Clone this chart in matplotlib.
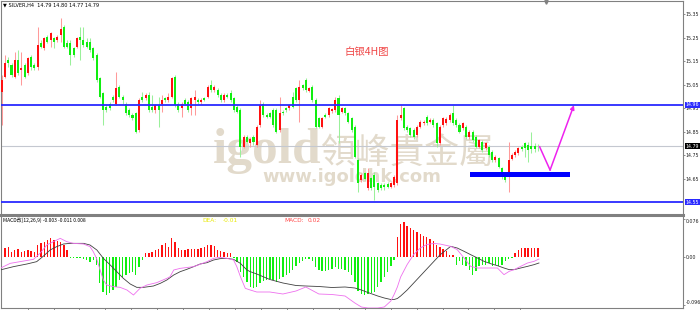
import numpy as np
import matplotlib
matplotlib.use("Agg")
import matplotlib.pyplot as plt
from matplotlib.patches import Rectangle
from matplotlib.transforms import blended_transform_factory

plt.rcParams['font.family'] = ['DejaVu Sans']

# ---------------- data (SILVER, H4) ----------------
open_ = [15.021, 15.085, 15.156, 15.134, 15.085, 15.156, 15.113, 15.134, 15.099, 15.170,
         15.134, 15.127, 15.227, 15.205, 15.255, 15.241, 15.248, 15.241, 15.262, 15.298,
         15.227, 15.227, 15.205, 15.212, 15.255, 15.241, 15.234, 15.234, 15.205, 15.177,
         15.078, 15.014, 14.957, 14.971, 15.000, 14.971, 15.042, 15.000, 14.971, 14.943,
         14.922, 14.929, 14.858, 15.000, 14.993, 15.007, 14.957, 14.943, 14.964, 14.971,
         14.993, 14.986, 15.000, 15.085, 14.971, 14.950, 14.986, 14.978, 14.950, 14.986,
         14.986, 14.978, 14.993, 15.000, 15.049, 15.028, 15.028, 15.007, 14.986, 15.007,
         15.014, 14.993, 14.957, 14.943, 14.787, 14.830, 14.801, 14.830, 14.794, 14.879,
         14.971, 14.922, 14.929, 14.943, 14.943, 14.858, 14.936, 14.950, 14.950, 15.000,
         15.035, 14.986, 15.049, 15.071, 15.025, 15.042, 14.986, 14.908, 14.872, 14.922,
         14.922, 14.939, 14.943, 14.993, 14.936, 14.950, 14.929, 14.908, 14.872, 14.730,
         14.645, 14.674, 14.610, 14.652, 14.667, 14.631, 14.624, 14.624, 14.628, 14.617,
         14.624, 14.631, 14.908, 14.950, 14.872, 14.865, 14.858, 14.837, 14.872, 14.886,
         14.915, 14.893, 14.901, 14.886, 14.801, 14.879, 14.886, 14.901, 14.929, 14.901,
         14.879, 14.865, 14.872, 14.830, 14.851, 14.830, 14.787, 14.808, 14.780, 14.787,
         14.766, 14.730, 14.738, 14.695, 14.674, 14.659, 14.737, 14.752, 14.759, 14.787,
         14.801, 14.794, 14.790, 14.790, 14.792]
high = [15.092, 15.177, 15.170, 15.142, 15.191, 15.198, 15.191, 15.142, 15.170, 15.177,
        15.142, 15.298, 15.241, 15.255, 15.262, 15.276, 15.255, 15.262, 15.333, 15.305,
        15.241, 15.241, 15.212, 15.255, 15.298, 15.298, 15.248, 15.248, 15.212, 15.184,
        15.085, 15.021, 14.964, 14.978, 15.007, 15.106, 15.049, 15.007, 14.978, 14.950,
        14.929, 14.936, 14.993, 15.021, 15.014, 15.021, 15.007, 14.971, 15.000, 15.007,
        15.000, 15.014, 15.085, 15.092, 14.978, 14.978, 14.993, 14.986, 15.000, 15.028,
        14.993, 14.993, 15.000, 15.049, 15.071, 15.049, 15.035, 15.014, 15.014, 15.014,
        15.028, 15.000, 14.964, 14.950, 14.837, 14.837, 14.830, 14.837, 14.879, 14.986,
        14.978, 14.929, 14.936, 14.950, 14.950, 15.000, 14.943, 14.957, 14.971, 15.021,
        15.042, 15.071, 15.056, 15.078, 15.042, 15.049, 14.993, 14.915, 14.915, 14.929,
        14.957, 14.953, 15.000, 15.007, 14.957, 14.957, 14.936, 14.915, 14.879, 14.738,
        14.674, 14.681, 14.695, 14.659, 14.681, 14.638, 14.631, 14.631, 14.638, 14.638,
        14.667, 14.922, 14.964, 14.957, 14.879, 14.872, 14.865, 14.879, 14.901, 14.901,
        14.922, 14.908, 14.908, 14.893, 14.879, 14.915, 14.912, 14.929, 14.964, 14.908,
        14.886, 14.893, 14.879, 14.858, 14.858, 14.837, 14.822, 14.815, 14.808, 14.794,
        14.773, 14.752, 14.745, 14.702, 14.681, 14.808, 14.759, 14.773, 14.787, 14.794,
        14.808, 14.808, 14.851, 14.801, 14.800]
low = [14.879, 15.078, 15.127, 15.085, 15.078, 15.092, 15.049, 15.078, 15.092, 15.113,
       15.113, 15.113, 15.205, 15.198, 15.227, 15.212, 15.205, 15.234, 15.234, 15.205,
       15.205, 15.134, 15.170, 15.205, 15.156, 15.212, 15.205, 15.191, 15.156, 15.063,
       14.993, 14.879, 14.936, 14.943, 14.978, 14.964, 14.993, 14.971, 14.922, 14.915,
       14.901, 14.844, 14.851, 14.978, 14.986, 14.936, 14.936, 14.929, 14.872, 14.936,
       14.978, 14.978, 14.993, 14.957, 14.936, 14.915, 14.964, 14.936, 14.922, 14.922,
       14.971, 14.971, 14.983, 14.993, 15.021, 15.021, 15.000, 14.978, 14.978, 14.993,
       14.978, 14.936, 14.929, 14.745, 14.780, 14.801, 14.787, 14.794, 14.787, 14.872,
       14.915, 14.908, 14.908, 14.872, 14.844, 14.851, 14.922, 14.936, 14.943, 14.950,
       14.978, 14.893, 15.028, 15.021, 15.018, 14.978, 14.865, 14.865, 14.865, 14.908,
       14.915, 14.932, 14.936, 14.801, 14.929, 14.922, 14.886, 14.851, 14.738, 14.596,
       14.638, 14.645, 14.603, 14.603, 14.560, 14.596, 14.603, 14.603, 14.610, 14.610,
       14.617, 14.624, 14.901, 14.858, 14.851, 14.830, 14.822, 14.830, 14.865, 14.879,
       14.879, 14.886, 14.872, 14.787, 14.794, 14.872, 14.879, 14.893, 14.879, 14.872,
       14.844, 14.858, 14.822, 14.822, 14.808, 14.780, 14.780, 14.766, 14.773, 14.745,
       14.723, 14.723, 14.695, 14.652, 14.638, 14.596, 14.730, 14.745, 14.752, 14.769,
       14.745, 14.723, 14.759, 14.766, 14.770]
close = [15.071, 15.142, 15.142, 15.092, 15.156, 15.099, 15.120, 15.085, 15.163, 15.127,
         15.120, 15.219, 15.212, 15.248, 15.234, 15.269, 15.234, 15.255, 15.290, 15.212,
         15.212, 15.177, 15.177, 15.248, 15.241, 15.219, 15.212, 15.198, 15.163, 15.071,
         15.000, 14.943, 14.943, 14.950, 14.986, 15.035, 15.000, 14.986, 14.929, 14.922,
         14.908, 14.851, 14.986, 14.986, 15.007, 14.943, 14.943, 14.964, 14.943, 14.986,
         14.986, 15.000, 15.078, 14.964, 14.943, 14.971, 14.971, 14.943, 14.993, 15.000,
         14.978, 14.986, 14.988, 15.042, 15.028, 15.042, 15.007, 14.986, 15.007, 15.000,
         14.986, 14.943, 14.936, 14.787, 14.830, 14.808, 14.822, 14.808, 14.872, 14.964,
         14.922, 14.915, 14.915, 14.879, 14.851, 14.929, 14.929, 14.943, 14.964, 14.957,
         14.986, 15.042, 15.035, 15.028, 15.035, 14.986, 14.872, 14.872, 14.908, 14.915,
         14.950, 14.946, 14.986, 14.922, 14.950, 14.929, 14.893, 14.858, 14.745, 14.631,
         14.667, 14.652, 14.674, 14.610, 14.617, 14.603, 14.610, 14.617, 14.617, 14.631,
         14.659, 14.901, 14.922, 14.865, 14.858, 14.837, 14.830, 14.872, 14.893, 14.893,
         14.886, 14.901, 14.879, 14.801, 14.872, 14.908, 14.903, 14.922, 14.886, 14.879,
         14.851, 14.886, 14.830, 14.851, 14.815, 14.787, 14.815, 14.773, 14.801, 14.752,
         14.730, 14.745, 14.702, 14.659, 14.645, 14.730, 14.752, 14.766, 14.780, 14.776,
         14.780, 14.773, 14.776, 14.776, 14.790]

macd_hist = [0.0107, 0.0173, 0.0193, 0.0107, 0.014, 0.0153, 0.0107, 0.0127, 0.014, 0.0127,
             0.0107, 0.024, 0.0287, 0.0307, 0.034, 0.0373, 0.034, 0.0327, 0.0307, 0.024,
             0.014, -0.001, -0.001, -0.001, -0.002, -0.003, -0.006, -0.0093, -0.005, -0.016,
             -0.0527, -0.069, -0.076, -0.0727, -0.066, -0.0593, -0.046, -0.0393, -0.036, -0.0327,
             -0.0293, -0.036, -0.0193, -0.006, 0.0087, 0.0087, 0.0107, 0.014, 0.0153, 0.024,
             0.0273, 0.0207, 0.0373, 0.0307, 0.0173, 0.014, 0.014, 0.0153, 0.0153, 0.0153,
             0.0153, 0.0173, 0.0207, 0.024, 0.024, 0.022, 0.014, 0.0127, 0.0107, 0.0087,
             0.0073, -0.002, -0.0093, -0.0293, -0.0393, -0.0493, -0.0593, -0.062, -0.060, -0.052,
             -0.048, -0.046, -0.044, -0.046, -0.050, -0.044, -0.040, -0.036, -0.032, -0.026,
             -0.018, -0.012, -0.008, -0.004, -0.004, -0.008, -0.020, -0.026, -0.028, -0.028,
             -0.026, -0.024, -0.020, -0.024, -0.024, -0.026, -0.030, -0.036, -0.050, -0.068,
             -0.074, -0.076, -0.074, -0.072, -0.070, -0.060, -0.050, -0.040, -0.030, -0.018,
             -0.006, 0.040, 0.066, 0.070, 0.062, 0.058, 0.054, 0.050, 0.046, 0.042,
             0.040, 0.036, 0.032, 0.024, 0.020, 0.016, 0.012, 0.004, 0.0047, -0.0153,
             -0.0087, -0.0153, -0.0187, -0.0253, -0.0353, -0.0287, -0.0187, -0.0153, -0.0153, -0.012,
             -0.0187, -0.0153, -0.0187, -0.0153, -0.0087, -0.004, -0.001, 0.008, 0.0147, 0.018,
             0.018, 0.018, 0.018, 0.018, 0.018]

dif_x = [-0.5, 2.6, 5.6, 9.7, 11.7, 13.8, 15.8, 17.9, 19.9, 21.9,
         25, 27, 28, 29, 30.1, 31.1, 32.1, 34.2, 36.2, 38.3,
         40.3, 41.3, 42.3, 44.4, 47.4, 50.5, 51.5, 52.6, 54.6, 58.7,
         62.8, 64.8, 66.8, 68.9, 70.9, 71.9, 73, 74.5, 76, 78,
         82, 86, 90, 93, 97, 101, 105, 108, 110, 112,
         115, 117, 119, 120, 121, 122, 124, 126, 128, 130,
         132, 134, 137.3, 139.3, 141.4, 143.4, 145.5, 147.5, 149.5, 151.6,
         152.6, 153.6, 155.2, 156.7, 158.7, 160.8, 162.8, 164.3]
dif_v = [-0.0227, -0.0127, -0.0093, -0.0047, 0.0073, 0.024, 0.0307, 0.0373, 0.0307, 0.0273,
         0.026, 0.0207, 0.0107, -0.0027, -0.026, -0.046, -0.056, -0.0593, -0.0607, -0.066,
         -0.076, -0.0693, -0.0627, -0.056, -0.0513, -0.0427, -0.0393, -0.026, -0.0227, -0.0193,
         -0.0093, -0.0027, -0.0007, -0.0027, -0.006, -0.0193, -0.0393, -0.0627, -0.066, -0.070,
         -0.070, -0.074, -0.068, -0.060, -0.074, -0.075, -0.078, -0.092, -0.100, -0.102,
         -0.102, -0.100, -0.088, -0.075, -0.060, -0.040, -0.015, 0.005, 0.018, 0.025,
         0.027, 0.026, 0.0213, 0.0147, -0.002, -0.0187, -0.022, -0.022, -0.022, -0.022,
         -0.0287, -0.0353, -0.0287, -0.0253, -0.0187, -0.012, -0.0087, -0.004]

dea_x = [-0.5, 3.6, 7.7, 10.7, 12.8, 14.8, 16.8, 18.9, 20.9, 25,
         27, 29.1, 31.1, 33.2, 35.2, 37.2, 39.3, 41.3, 43.4, 46.4,
         48.5, 50.5, 52.6, 54.6, 56.6, 58.7, 60.7, 62.8, 64.8, 66.8,
         68.9, 70.9, 73, 75, 76, 78, 82, 86, 90, 93,
         97, 101, 105, 108, 110, 112, 115, 117, 119, 120,
         121, 122, 124, 126, 128, 130, 132, 134, 137.3, 139.3,
         141.4, 143.4, 145.5, 147.5, 149.5, 151.6, 153.6, 155.2, 156.7, 158.7,
         160.8, 162.8, 164.3]
dea_v = [-0.026, -0.0193, -0.014, -0.0093, 0.002, 0.014, 0.0207, 0.026, 0.0273, 0.0273,
         0.024, 0.014, -0.0027, -0.016, -0.0293, -0.0427, -0.054, -0.0607, -0.0607, -0.058,
         -0.0527, -0.046, -0.036, -0.0293, -0.0247, -0.0193, -0.014, -0.0113, -0.006, -0.0033,
         -0.0027, -0.0047, -0.0127, -0.026, -0.0293, -0.034, -0.045, -0.052, -0.057, -0.058,
         -0.059, -0.061, -0.060, -0.062, -0.066, -0.071, -0.078, -0.082, -0.085, -0.085,
         -0.083, -0.078, -0.066, -0.052, -0.038, -0.024, -0.010, 0.004, 0.0213, 0.018,
         0.0113, 0.0047, -0.002, -0.0087, -0.0133, -0.0173, -0.022, -0.0253, -0.0253, -0.022,
         -0.0187, -0.0153, -0.012]

price_ticks = [15.35, 15.25, 15.15, 15.05, 14.95, 14.85, 14.75, 14.65]
price_labels = ['15.35', '15.25', '15.15', '15.05', '14.95', '14.85', '14.75', '14.65']
macd_ticks = [0.076, 0.0, -0.096]
macd_labels = ['0.076', '0.00', '-0.096']

resistance = 14.965
support = 14.552
last_price = 14.79
zone_low, zone_high = 14.659, 14.681
zone_start, zone_end = 143.2, 173.8
path_x = [164.5, 167.7, 175.0]
path_y = [14.787, 14.688, 14.964]
chart_shift = 166.4
day_ticks = [7.93 * k for k in range(1, 21)]

# ---------------- figure ----------------
W, H = 700, 310
fig = plt.figure(figsize=(W / 100, H / 100), dpi=100)
fig.patch.set_facecolor('white')

ax = fig.add_axes([1 / W, 1 - 214 / H, 682 / W, 213 / H])
axm = fig.add_axes([1 / W, 1 - 308 / H, 682 / W, 93 / H])

xlim = (-0.214, 208.35)
ax.set_xlim(*xlim)
axm.set_xlim(*xlim)
ax.set_ylim(14.501, 15.407)
axm.set_ylim(-0.102, 0.084)

o = np.array(open_); h = np.array(high); l = np.array(low); c = np.array(close)
x = np.arange(len(o))
up = c >= o
body_col = np.where(up, '#ff1010', '#10ee10')
wick_col = np.where(up, '#ff9a9a', '#9af09a')
ax.vlines(x, l, h, colors=wick_col, lw=0.75, zorder=3)
heights = np.maximum(np.abs(c - o), 0.0018)
ax.bar(x, heights, bottom=np.minimum(o, c), width=0.62, color=body_col,
       linewidth=0, zorder=4)

ax.axhline(resistance, color='#2a2aff', lw=1.3, zorder=5)
ax.axhline(support, color='#2a2aff', lw=1.3, zorder=5)
ax.axhline(last_price, color='#c4c8d0', lw=0.8, zorder=2)

ax.add_patch(Rectangle((zone_start, zone_low), zone_end - zone_start,
                       zone_high - zone_low, facecolor='#0000ff',
                       edgecolor='none', zorder=6))
ax.plot(path_x[:2], path_y[:2], color='#ee22ee', lw=1.1, zorder=7)
ax.annotate('', xy=(path_x[2], path_y[2]), xytext=(path_x[1], path_y[1]),
            arrowprops=dict(arrowstyle='-|>', color='#ee22ee', lw=1.1,
                            mutation_scale=6, shrinkA=0, shrinkB=0), zorder=7)

# watermark
wm = '#e2dacb'
ax.text(213 / W, 1 - 163 / H, 'igold', transform=fig.transFigure,
        fontsize=37, fontweight='bold', family=['Liberation Serif'],
        color=wm, va='baseline', ha='left', zorder=1)
ax.text(321 / W, 1 - 163 / H, '領峰貴金屬', transform=fig.transFigure,
        fontsize=25, family=['Noto Sans CJK TC'], color=wm,
        va='baseline', ha='left', zorder=1)
ax.text(262 / W, 1 - 182 / H, 'www.igoldhk.com', transform=fig.transFigure,
        fontsize=13, fontweight='bold', family=['DejaVu Sans'], color=wm,
        va='baseline', ha='left', zorder=1)

# texts
ax.text(0.003, 0.982, '▼ SILVER,H4  14.79 14.80 14.77 14.79', transform=ax.transAxes,
        fontsize=3.6, va='center', ha='left', color='black')
ax.text(0.537, 0.761, '白银4H图', transform=ax.transAxes, fontsize=7.5,
        family=['Noto Sans CJK SC', 'DejaVu Sans'], color='#f04848',
        va='center', ha='center')
ax.plot([chart_shift], [15.403], marker='v', color='#808080', markersize=2.5,
        clip_on=False, zorder=8)

# MACD panel
hist = np.array(macd_hist)
axm.bar(x, hist, width=0.42, color=np.where(hist >= 0, '#ff1010', '#10ee10'),
        linewidth=0, zorder=2)
axm.plot(dea_x, dea_v, color='#404040', lw=0.6, zorder=3)
axm.plot(dif_x, dif_v, color='#ee70ee', lw=0.6, zorder=4)
axm.text(0.003, 0.946, 'MACD改(12,26,9) -0.003 -0.011 0.008', transform=axm.transAxes,
         fontsize=3.6, va='center', ha='left', color='black',
         family=['Noto Sans CJK SC', 'DejaVu Sans'])
axm.text(0.296, 0.946, 'DEA:', transform=axm.transAxes, fontsize=4.2,
         color='#e8e800', va='center', ha='left')
axm.text(0.3255, 0.946, '-0.01', transform=axm.transAxes, fontsize=4.2,
         color='#e8e800', va='center', ha='left')
axm.text(0.415, 0.946, 'MACD:', transform=axm.transAxes, fontsize=4.2,
         color='#ff4848', va='center', ha='left')
axm.text(0.450, 0.946, '0.02', transform=axm.transAxes, fontsize=4.2,
         color='#ff4848', va='center', ha='left')

for a in (ax, axm):
    a.set_facecolor('white')
    for s in a.spines.values():
        s.set_color('#808080')
        s.set_linewidth(0.8)
    a.yaxis.tick_right()
    a.tick_params(axis='y', labelsize=3.4, length=1.5, width=0.5, pad=0.6,
                  colors='#606060', labelcolor='#202020')
ax.spines['bottom'].set_visible(False)
axm.spines['top'].set_linewidth(2.2)
ax.set_xticks([])
axm.set_xticks(day_ticks)
axm.set_xticklabels([])
axm.tick_params(axis='x', length=2, width=0.5, colors='#606060', direction='out')

ax.set_yticks(price_ticks)
ax.set_yticklabels(price_labels)
axm.set_yticks(macd_ticks)
axm.set_yticklabels(macd_labels)
for lab in axm.get_yticklabels():
    if lab.get_text() == '0.076':
        lab.set_verticalalignment('top')
    elif lab.get_text() == '-0.096':
        lab.set_verticalalignment('bottom')

tr = blended_transform_factory(ax.transAxes, ax.transData)
for val, txt, col in ((resistance, '14.96', '#2a2aff'), (support, '14.55', '#2a2aff'),
                      (last_price, '14.79', '#000000')):
    ax.text(1.004, val, txt, transform=tr, fontsize=3.4, color='white',
            va='center', ha='left', zorder=9,
            bbox=dict(boxstyle='square,pad=0.15', fc=col, ec='none'))

fig.savefig('out.png', dpi=100)
